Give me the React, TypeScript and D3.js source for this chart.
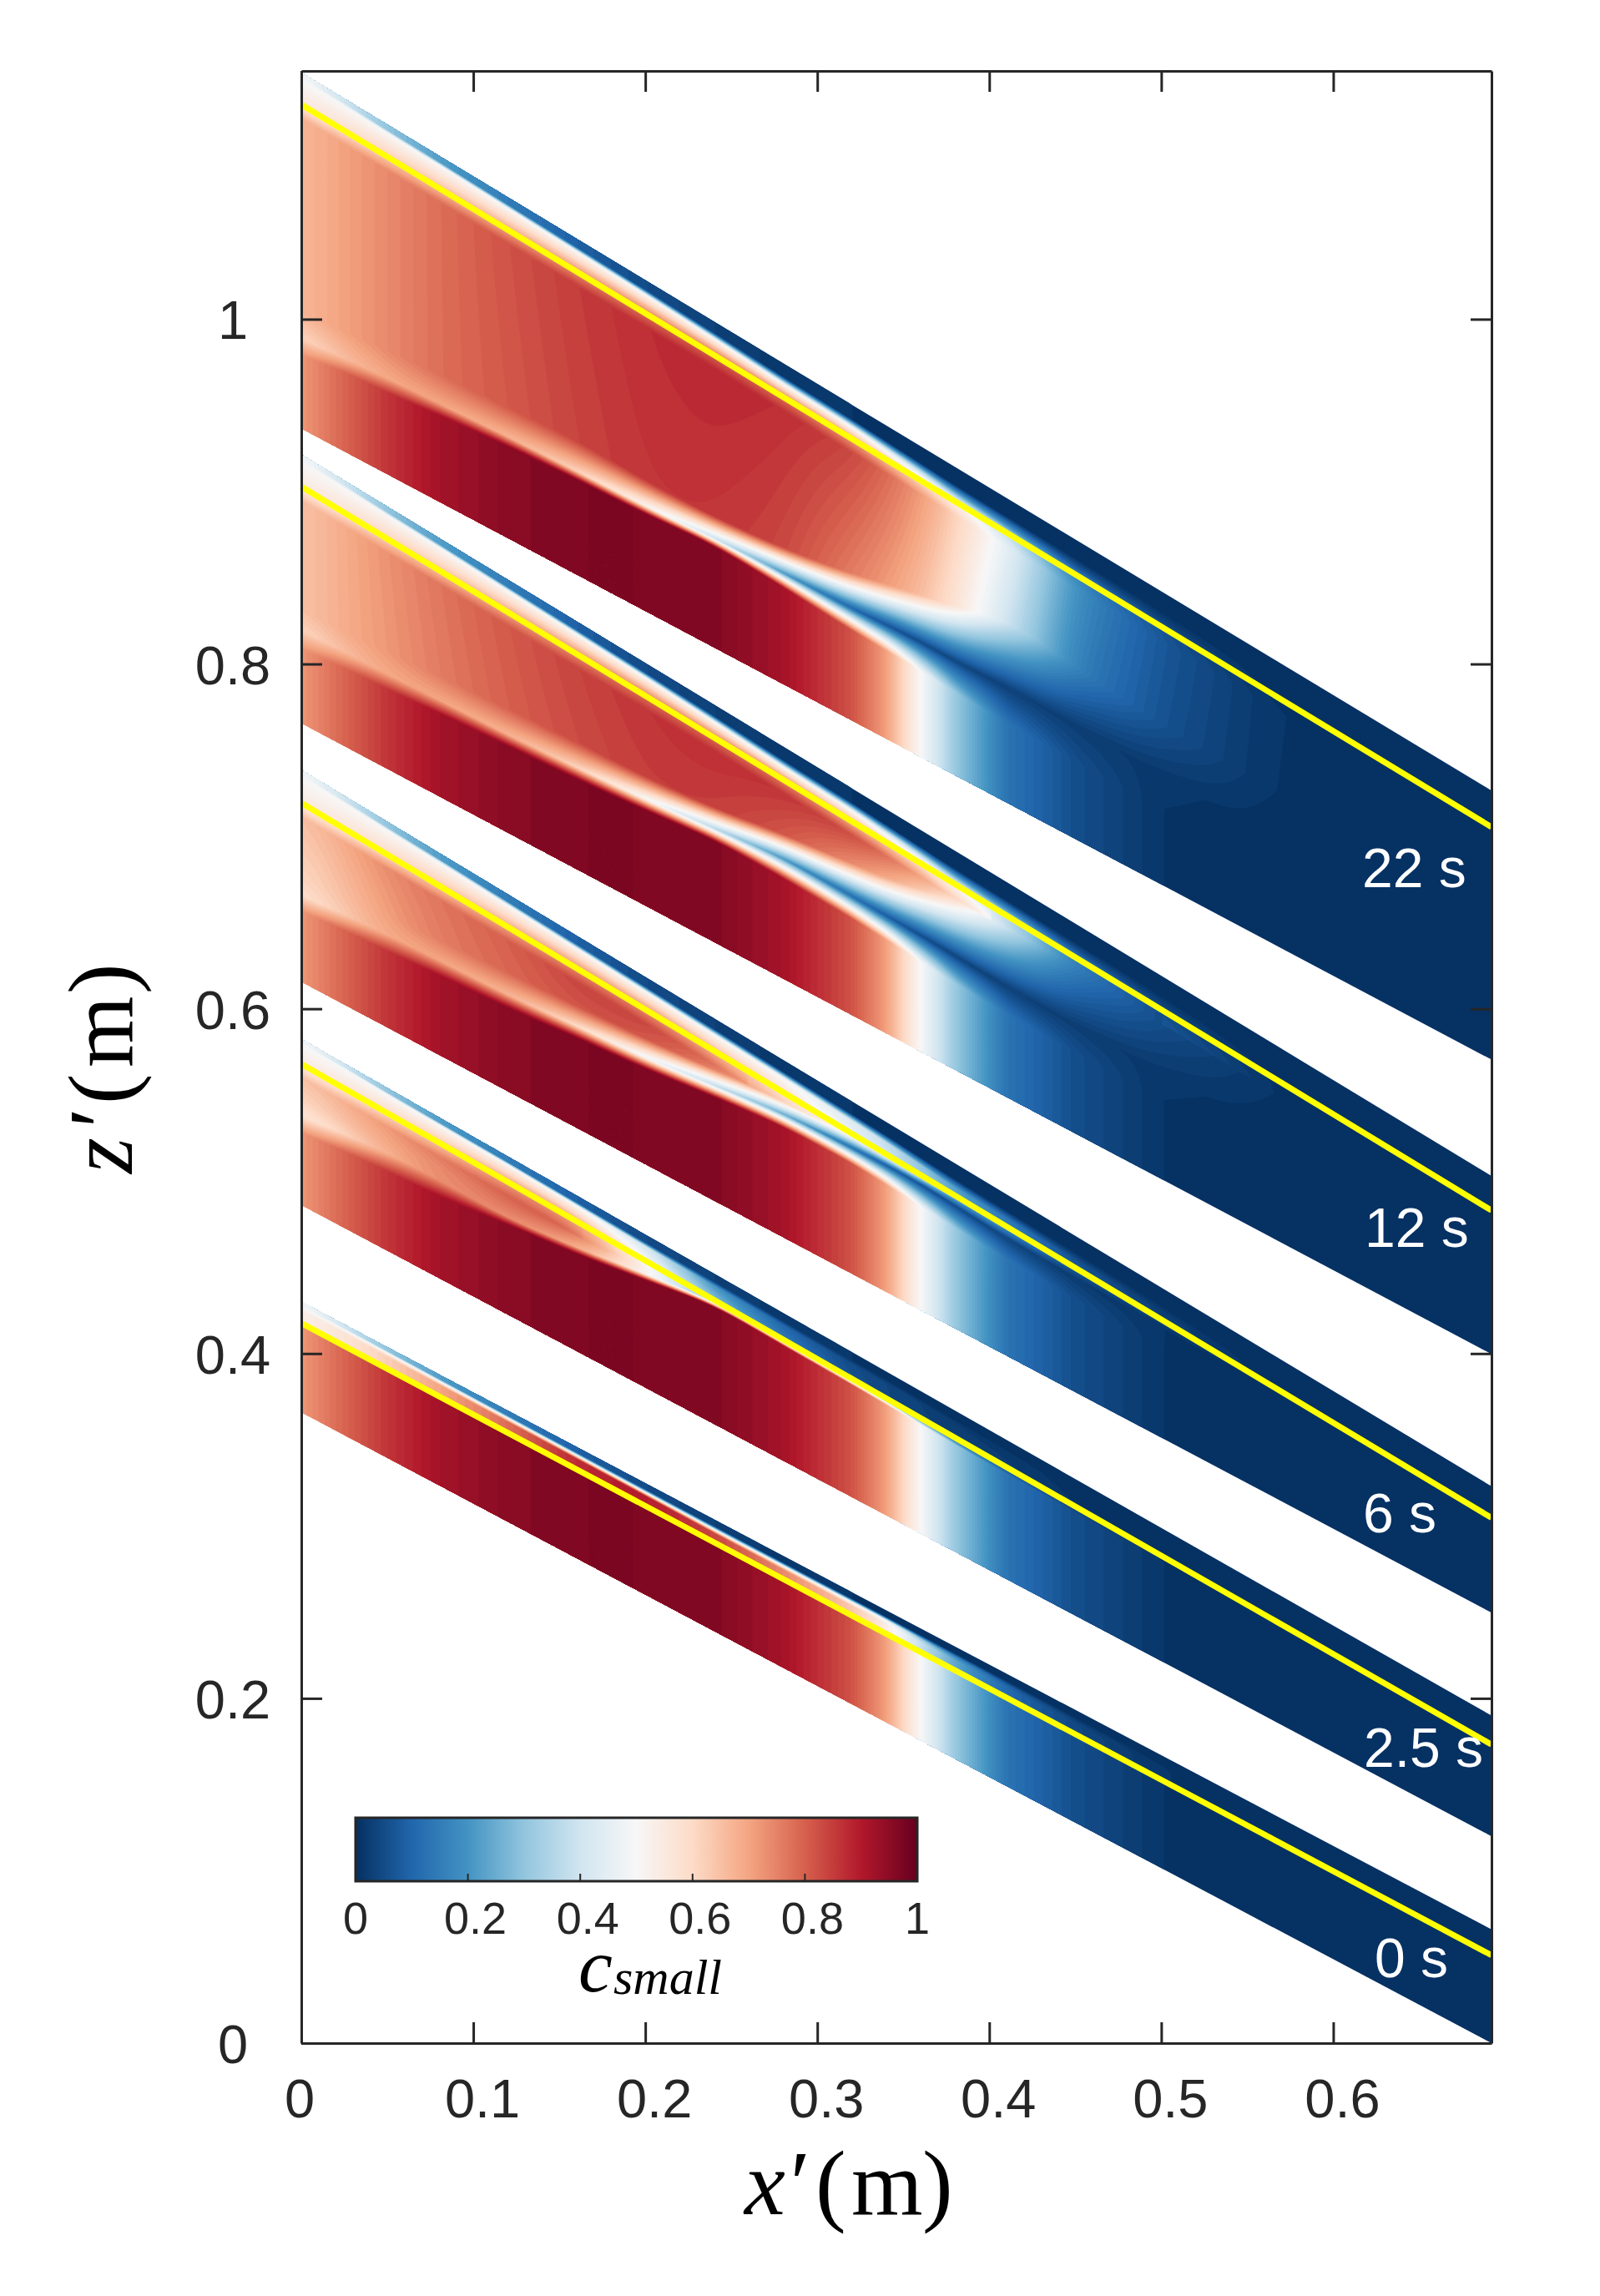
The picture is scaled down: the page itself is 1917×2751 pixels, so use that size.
import React, { useRef, useEffect } from 'react';
import * as d3 from 'd3';

const xTicks = [0, 0.1, 0.2, 0.3, 0.4, 0.5, 0.6];
const zTicks = [0, 0.2, 0.4, 0.6, 0.8, 1];
const barTicks = [0, 0.2, 0.4, 0.6, 0.8, 1];
const colorStops = ['#053061', '#2166ac', '#4393c3', '#92c5de', '#d1e5f0', '#f7f7f7', '#fddbc7', '#f4a582', '#d6604d', '#b2182b', '#67001f'];

const timeLabels = ['22 s', '12 s', '6 s', '2.5 s', '0 s'];
const labelX = [1632, 1635, 1633, 1634, 1647];
const labelY = [1063, 1494, 1836, 2117, 2369];

// band edges, z at x = 0 and at the right end of the axis
const topLeft = [1.143, 0.9215, 0.7385, 0.5824, 0.43];
const topRight = [0.7266, 0.503, 0.323, 0.19, 0.066];
const yellowLeft = [1.1245, 0.9029, 0.7194, 0.568, 0.4176];
const yellowRight = [0.7054, 0.483, 0.3047, 0.1732, 0.051];
const bottomLeft = [0.9366, 0.7657, 0.6157, 0.4862, 0.366];
const bottomRight = [0.5705, 0.3997, 0.2497, 0.12, 0];

const stations = [0, 0.02, 0.05, 0.08, 0.12, 0.16, 0.2, 0.24, 0.28, 0.32, 0.34, 0.36, 0.38, 0.41, 0.45, 0.5, 0.56, 0.62, 0.692];
const bottomC = [0.72, 0.78, 0.86, 0.92, 0.955, 0.97, 0.97, 0.965, 0.92, 0.82, 0.71, 0.5, 0.31, 0.13, 0.055, 0.01, 0, 0, 0];
const surfaceC = [0.5, 0.42, 0.3, 0.22, 0.15, 0.09, 0.05, 0.03, 0.015, 0.01, 0.008, 0.005, 0.003, 0, 0, 0, 0, 0, 0];

// rows per station: lower edge, tongue height, tongue c, upper edge, c above it, c under yellow line, c at yellow line
const field22 = [
  [0.041, 0.052, 0.60, 0.068, 0.66, 0.66, 0.55],
  [0.046, 0.054, 0.65, 0.069, 0.70, 0.70, 0.58],
  [0.047, 0.056, 0.70, 0.072, 0.74, 0.74, 0.63],
  [0.050, 0.057, 0.70, 0.074, 0.78, 0.78, 0.66],
  [0.053, 0.059, 0.68, 0.076, 0.81, 0.82, 0.70],
  [0.055, 0.060, 0.62, 0.078, 0.84, 0.85, 0.74],
  [0.056, 0.061, 0.52, 0.076, 0.86, 0.87, 0.78],
  [0.059, 0.0635, 0.40, 0.076, 0.86, 0.88, 0.80],
  [0.056, 0.0645, 0.20, 0.079, 0.84, 0.87, 0.78],
  [0.052, 0.065, 0.10, 0.085, 0.76, 0.84, 0.72],
  [0.051, 0.066, 0.06, 0.090, 0.72, 0.79, 0.66],
  [0.050, 0.067, 0.05, 0.094, 0.66, 0.72, 0.60],
  [0.048, 0.066, 0.04, 0.098, 0.58, 0.62, 0.54],
  [0.046, 0.067, 0.03, 0.106, 0.40, 0.46, 0.38],
  [0.045, 0.066, 0.025, 0.100, 0.15, 0.18, 0.16],
  [0.044, 0.064, 0.015, 0.093, 0.06, 0.07, 0.06],
  [0.044, 0.060, 0.003, 0.090, 0.01, 0.012, 0.006],
  [0.044, 0.060, 0, 0.090, 0, 0, 0],
  [0.044, 0.060, 0, 0.090, 0, 0, 0],
];
const field12 = [
  [0.042, 0.054, 0.60, 0.066, 0.64, 0.64, 0.54],
  [0.045, 0.055, 0.65, 0.066, 0.68, 0.68, 0.57],
  [0.046, 0.055, 0.70, 0.068, 0.72, 0.73, 0.62],
  [0.048, 0.056, 0.70, 0.070, 0.76, 0.77, 0.65],
  [0.050, 0.057, 0.68, 0.072, 0.80, 0.81, 0.70],
  [0.052, 0.059, 0.62, 0.074, 0.83, 0.84, 0.74],
  [0.055, 0.062, 0.50, 0.075, 0.85, 0.86, 0.78],
  [0.059, 0.066, 0.36, 0.078, 0.85, 0.87, 0.78],
  [0.058, 0.070, 0.20, 0.084, 0.82, 0.86, 0.76],
  [0.056, 0.069, 0.12, 0.088, 0.74, 0.83, 0.68],
  [0.054, 0.068, 0.08, 0.090, 0.70, 0.78, 0.63],
  [0.052, 0.0676, 0.05, 0.094, 0.64, 0.71, 0.58],
  [0.050, 0.066, 0.04, 0.098, 0.58, 0.61, 0.52],
  [0.048, 0.064, 0.03, 0.098, 0.38, 0.46, 0.36],
  [0.047, 0.063, 0.025, 0.097, 0.14, 0.18, 0.15],
  [0.046, 0.062, 0.015, 0.090, 0.05, 0.07, 0.05],
  [0.046, 0.060, 0.003, 0.085, 0.01, 0.012, 0.006],
  [0.046, 0.060, 0, 0.085, 0, 0, 0],
  [0.046, 0.060, 0, 0.085, 0, 0, 0],
];
const field6 = [
  [0.040, 0.050, 0.58, 0.060, 0.60, 0.64, 0.54],
  [0.043, 0.052, 0.62, 0.062, 0.64, 0.68, 0.56],
  [0.044, 0.054, 0.70, 0.065, 0.71, 0.74, 0.60],
  [0.046, 0.055, 0.70, 0.067, 0.76, 0.77, 0.64],
  [0.048, 0.056, 0.68, 0.069, 0.79, 0.80, 0.70],
  [0.052, 0.059, 0.60, 0.071, 0.82, 0.84, 0.74],
  [0.055, 0.062, 0.48, 0.073, 0.82, 0.84, 0.74],
  [0.060, 0.067, 0.38, 0.076, 0.76, 0.78, 0.68],
  [0.064, 0.0718, 0.25, 0.079, 0.62, 0.66, 0.58],
  [0.064, 0.073, 0.12, 0.0795, 0.48, 0.50, 0.46],
  [0.062, 0.0735, 0.08, 0.0775, 0.42, 0.42, 0.40],
  [0.060, 0.0733, 0.06, 0.076, 0.33, 0.33, 0.33],
  [0.058, 0.071, 0.05, 0.076, 0.24, 0.24, 0.24],
  [0.056, 0.068, 0.04, 0.072, 0.15, 0.15, 0.15],
  [0.054, 0.066, 0.02, 0.071, 0.07, 0.07, 0.07],
  [0.052, 0.064, 0.01, 0.067, 0.03, 0.03, 0.03],
  [0.050, 0.060, 0.003, 0.064, 0.005, 0.005, 0.005],
  [0.050, 0.060, 0, 0.062, 0, 0, 0],
  [0.050, 0.060, 0, 0.062, 0, 0, 0],
];
const field25 = [
  [0.041, 0.052, 0.56, 0.060, 0.60, 0.64, 0.54],
  [0.044, 0.054, 0.60, 0.062, 0.64, 0.67, 0.56],
  [0.046, 0.057, 0.68, 0.064, 0.70, 0.72, 0.60],
  [0.047, 0.057, 0.74, 0.064, 0.74, 0.76, 0.64],
  [0.052, 0.056, 0.74, 0.064, 0.78, 0.80, 0.72],
  [0.056, 0.060, 0.70, 0.067, 0.78, 0.80, 0.72],
  [0.062, 0.066, 0.52, 0.069, 0.52, 0.52, 0.50],
  [0.0685, 0.0715, 0.28, 0.0718, 0.28, 0.28, 0.28],
  [0.0665, 0.070, 0.14, 0.0702, 0.14, 0.14, 0.14],
  [0.065, 0.0685, 0.06, 0.0687, 0.06, 0.06, 0.06],
  [0.064, 0.0677, 0.04, 0.0679, 0.04, 0.04, 0.04],
  [0.063, 0.067, 0.03, 0.0672, 0.03, 0.03, 0.03],
  [0.062, 0.066, 0.03, 0.0662, 0.03, 0.03, 0.03],
  [0.061, 0.065, 0.025, 0.0652, 0.025, 0.025, 0.025],
  [0.060, 0.063, 0.01, 0.0632, 0.01, 0.01, 0.01],
  [0.058, 0.061, 0.005, 0.0612, 0.005, 0.005, 0.005],
  [0.056, 0.059, 0, 0.0592, 0, 0, 0],
  [0.054, 0.056, 0, 0.0562, 0, 0, 0],
  [0.051, 0.053, 0, 0.0532, 0, 0, 0],
];
const field0 = [
  [0.0508, 0.0512, 0.52, 0.0514, 0.52, 0.52, 0.52],
  [0.0508, 0.0512, 0.56, 0.0514, 0.56, 0.56, 0.56],
  [0.0508, 0.0512, 0.62, 0.0514, 0.62, 0.62, 0.62],
  [0.0508, 0.0512, 0.70, 0.0514, 0.70, 0.70, 0.70],
  [0.0508, 0.0512, 0.78, 0.0514, 0.78, 0.78, 0.78],
  [0.0508, 0.0512, 0.88, 0.0514, 0.88, 0.88, 0.88],
  [0.0508, 0.0512, 0.90, 0.0514, 0.90, 0.90, 0.90],
  [0.0508, 0.0512, 0.84, 0.0514, 0.84, 0.84, 0.84],
  [0.0508, 0.0512, 0.74, 0.0514, 0.74, 0.74, 0.74],
  [0.0508, 0.0512, 0.64, 0.0514, 0.64, 0.64, 0.64],
  [0.0508, 0.0512, 0.56, 0.0514, 0.56, 0.56, 0.56],
  [0.0508, 0.0512, 0.38, 0.0514, 0.38, 0.38, 0.38],
  [0.0508, 0.0512, 0.22, 0.0514, 0.22, 0.22, 0.22],
  [0.0508, 0.0512, 0.10, 0.0514, 0.10, 0.10, 0.10],
  [0.0508, 0.0512, 0.04, 0.0514, 0.04, 0.04, 0.04],
  [0.0508, 0.0512, 0.01, 0.0514, 0.01, 0.01, 0.01],
  [0.0508, 0.0512, 0, 0.0514, 0, 0, 0],
  [0.0508, 0.0512, 0, 0.0514, 0, 0, 0],
  [0.0508, 0.0512, 0, 0.0514, 0, 0, 0],
];
const bandFields = [field22, field12, field6, field25, field0];

// depth of the pale line under the top edge and its c
const skinDepth22 = [0.004, 0.004, 0.005, 0.0055, 0.0065, 0.0075, 0.0085, 0.01, 0.012, 0.013, 0.014, 0.015, 0.016, 0.016, 0.016, 0.016, 0.016, 0.016, 0.016];
const skinDepth6 = [0.004, 0.004, 0.005, 0.0055, 0.0065, 0.0075, 0.0085, 0.0095, 0.0105, 0.0115, 0.012, 0.013, 0.014, 0.014, 0.014, 0.014, 0.014, 0.014, 0.014];
const skinDepth25 = [0.003, 0.003, 0.004, 0.0045, 0.005, 0.006, 0.007, 0.007, 0.007, 0.007, 0.007, 0.007, 0.007, 0.007, 0.007, 0.007, 0.007, 0.007, 0.007];
const skinDepth0 = [0.003, 0.003, 0.0035, 0.004, 0.0045, 0.005, 0.0055, 0.006, 0.006, 0.006, 0.006, 0.006, 0.006, 0.006, 0.006, 0.006, 0.006, 0.006, 0.006];
const bandSkinDepth = [skinDepth22, skinDepth22, skinDepth6, skinDepth25, skinDepth0];
const skinC22 = [0.5, 0.5, 0.5, 0.5, 0.5, 0.5, 0.5, 0.5, 0.5, 0.5, 0.45, 0.4, 0.3, 0.2, 0.08, 0.03, 0.005, 0, 0];
const skinC6 = [0.5, 0.5, 0.5, 0.5, 0.5, 0.5, 0.5, 0.5, 0.5, 0.44, 0.38, 0.3, 0.22, 0.14, 0.06, 0.025, 0.005, 0, 0];
const skinC25 = [0.5, 0.5, 0.5, 0.5, 0.5, 0.5, 0.42, 0.2, 0.1, 0.05, 0.04, 0.03, 0.02, 0.015, 0.005, 0, 0, 0, 0];
const skinC0 = [0.5, 0.5, 0.5, 0.5, 0.5, 0.5, 0.5, 0.5, 0.5, 0.5, 0.5, 0.3, 0.18, 0.08, 0.03, 0.01, 0, 0, 0];
const bandSkinC = [skinC22, skinC22, skinC6, skinC25, skinC0];

const xMax = 0.692;
const zMax = 1.144;
const frame = { left: 361, right: 1787, top: 85, bottom: 2448 };
const bar = { left: 426, right: 1099, top: 2178, bottom: 2254 };
const ink = '#262626';
const sans = '"Liberation Sans", Arial, sans-serif';
const serif = '"Liberation Serif", "Times New Roman", serif';

const cValues = colorStops.map((_, i) => i / 10);
const colorScale = d3.scaleLinear<string>().domain(cValues).range(colorStops).interpolate(d3.interpolateRgb);
const levels = d3.range(1, 100).map(d => d / 100);

// a column read at the stations, sampled at the raster columns and rounded at the stations
function sampled(column: number[], nx: number, radius: number): number[] {
  const s = d3.scaleLinear().domain(stations).range(column);
  const out = d3.range(nx).map(i => s(((i + 0.5) / nx) * xMax));
  return radius > 0 ? (d3.blur(out, radius) as number[]) : out;
}

// c over a (x', fraction of band height) raster, knots follow the read rows
function bandRaster(band: number, nx: number, ny: number): number[] {
  const rows = bandFields[band];
  const columns = d3.range(7).map(k => sampled(rows.map(r => r[k]), nx, 10));
  const bottom = sampled(bottomC, nx, 2);
  const surface = sampled(surfaceC, nx, 4);
  const skinD = sampled(bandSkinDepth[band], nx, 4);
  const skinC = sampled(bandSkinC[band], nx, 4);
  const values: number[] = new Array(nx * ny);

  for (let i = 0; i < nx; i++) {
    const t = (i + 0.5) / nx;
    const zb = bottomLeft[band] + (bottomRight[band] - bottomLeft[band]) * t;
    const height = topLeft[band] + (topRight[band] - topLeft[band]) * t - zb;
    const yellowW = yellowLeft[band] + (yellowRight[band] - yellowLeft[band]) * t - zb;
    const c = columns.map(s => s[i]);
    const d = skinD[i];
    const raw: [number, number][] = [
      [0, bottom[i]],
      [c[0], bottom[i]],
      [c[1], c[2]],
      [c[3], c[4]],
      [yellowW - 0.008, c[5]],
      [yellowW, c[6]],
    ];
    // the thin red layer at 0 s stays full until just under the pale line
    if (band === 4) raw.push([height - d - 0.002, c[6]]);
    raw.push([height - d, skinC[i]], [height - d * 0.65, surface[i]], [height, surface[i]]);
    const knots: [number, number][] = [];
    raw.forEach(p => {
      if (knots.length === 0 || p[0] > knots[knots.length - 1][0]) knots.push(p);
    });
    const profile = d3.scaleLinear().domain(knots.map(p => p[0])).range(knots.map(p => p[1])).clamp(true);
    for (let j = 0; j < ny; j++) {
      values[j * nx + i] = profile(((j + 0.5) / ny) * height);
    }
  }
  return values;
}

export default function App() {
  const svgRef = useRef<SVGSVGElement | null>(null);

  useEffect(() => {
    if (!svgRef.current) return;
    const svg = d3.select(svgRef.current);
    svg.selectAll('*').remove();

    const xScale = d3.scaleLinear().domain([0, xMax]).range([frame.left, frame.right]);
    const zScale = d3.scaleLinear().domain([0, zMax]).range([frame.bottom, frame.top]);

    // filled contours, one band at a time
    const nx = 640;
    const ny = 340;
    const contours = d3.contours().size([nx, ny]).thresholds(levels);
    timeLabels.forEach((_, band) => {
      const values = bandRaster(band, nx, ny);
      const project = d3.geoTransform({
        point(gx: number, gy: number) {
          const t = gx / nx;
          const f = gy / ny;
          const zb = bottomLeft[band] + (bottomRight[band] - bottomLeft[band]) * t;
          const zt = topLeft[band] + (topRight[band] - topLeft[band]) * t;
          (this as any).stream.point(xScale(t * xMax), zScale(zb + (zt - zb) * f));
        },
      });
      const path = d3.geoPath(project);
      const g = svg.append('g').attr('class', 'band');
      const outline = d3.line<number>()
        .x(d => xScale(d))
        .y((d, i) => zScale(i < 2 ? (i === 0 ? bottomLeft[band] : bottomRight[band]) : (i === 2 ? topRight[band] : topLeft[band])));
      g.append('path')
        .attr('d', outline([0, xMax, xMax, 0]) + 'Z')
        .attr('fill', colorScale(0.002));
      g.selectAll('path.level')
        .data(contours(values).filter(c => c.coordinates.length > 0))
        .join('path')
        .attr('class', 'level')
        .attr('d', c => path(c as any))
        .attr('fill', c => colorScale(c.value + 0.005));
    });

    // yellow lines
    timeLabels.forEach((_, band) => {
      const yellow = d3.line<number>()
        .x(d => xScale(d))
        .y((d, i) => zScale(i === 0 ? yellowLeft[band] : yellowRight[band]));
      svg.append('path')
        .attr('d', yellow([0, xMax]))
        .attr('fill', 'none')
        .attr('stroke', '#ffff00')
        .attr('stroke-width', 7);
    });

    // time labels
    svg.selectAll('text.time')
      .data(timeLabels)
      .join('text')
      .attr('class', 'time')
      .attr('x', (d, i) => labelX[i])
      .attr('y', (d, i) => labelY[i])
      .attr('fill', '#ffffff')
      .style('font-family', sans)
      .style('font-size', '66px')
      .text(d => d);

    // axes, ticks point inward on all four sides
    const styleAxis = (g: any) => {
      g.selectAll('path, line').attr('stroke', ink).attr('stroke-width', 3);
      g.selectAll('text').remove();
    };
    svg.append('g').attr('transform', `translate(0,${frame.bottom})`)
      .call(d3.axisBottom(xScale).tickValues(xTicks).tickSizeInner(-25).tickSizeOuter(0)).call(styleAxis);
    svg.append('g').attr('transform', `translate(0,${frame.top})`)
      .call(d3.axisTop(xScale).tickValues(xTicks).tickSizeInner(-25).tickSizeOuter(0)).call(styleAxis);
    svg.append('g').attr('transform', `translate(${frame.left},0)`)
      .call(d3.axisLeft(zScale).tickValues(zTicks).tickSizeInner(-25).tickSizeOuter(0)).call(styleAxis);
    svg.append('g').attr('transform', `translate(${frame.right},0)`)
      .call(d3.axisRight(zScale).tickValues(zTicks).tickSizeInner(-25).tickSizeOuter(0)).call(styleAxis);

    svg.selectAll('text.xtick')
      .data(xTicks)
      .join('text')
      .attr('class', 'xtick')
      .attr('x', d => xScale(d) + (d === 0 ? -2 : 11))
      .attr('y', 2537)
      .attr('text-anchor', 'middle')
      .attr('fill', ink)
      .style('font-family', sans)
      .style('font-size', '65px')
      .text(d => String(d));
    svg.selectAll('text.ztick')
      .data(zTicks)
      .join('text')
      .attr('class', 'ztick')
      .attr('x', 279)
      .attr('y', d => zScale(d) + 24)
      .attr('text-anchor', 'middle')
      .attr('fill', ink)
      .style('font-family', sans)
      .style('font-size', '65px')
      .text(d => String(d));

    // colorbar
    const barScale = d3.scaleLinear().domain([0, 1]).range([bar.left, bar.right]);
    const defs = svg.append('defs');
    const gradient = defs.append('linearGradient').attr('id', 'barGradient');
    gradient.selectAll('stop')
      .data(cValues)
      .join('stop')
      .attr('offset', d => `${d * 100}%`)
      .attr('stop-color', d => colorScale(d));
    svg.append('rect')
      .attr('x', bar.left).attr('y', bar.top)
      .attr('width', bar.right - bar.left).attr('height', bar.bottom - bar.top)
      .attr('fill', 'url(#barGradient)')
      .attr('stroke', ink).attr('stroke-width', 3);
    svg.selectAll('line.bartick')
      .data(barTicks.slice(1, -1))
      .join('line')
      .attr('class', 'bartick')
      .attr('x1', d => barScale(d)).attr('x2', d => barScale(d))
      .attr('y1', bar.bottom).attr('y2', bar.bottom - 9)
      .attr('stroke', ink).attr('stroke-width', 2);
    svg.selectAll('text.bartext')
      .data(barTicks)
      .join('text')
      .attr('class', 'bartext')
      .attr('x', d => barScale(d) + (d === 0 || d === 1 ? 0 : 9))
      .attr('y', 2317)
      .attr('text-anchor', 'middle')
      .attr('fill', ink)
      .style('font-family', sans)
      .style('font-size', '54px')
      .text(d => String(d));

    // math labels
    const cLabel = svg.append('text')
      .attr('y', 2386).attr('fill', '#000000')
      .style('font-family', serif).style('font-style', 'italic');
    cLabel.append('tspan').attr('x', 693).style('font-size', '92px').text('c');
    cLabel.append('tspan').attr('x', 735).attr('y', 2389).style('font-size', '60px').text('small');

    const xLabel = svg.append('text')
      .attr('y', 2653).attr('fill', '#000000')
      .style('font-family', serif).style('font-size', '110px');
    xLabel.append('tspan').attr('x', 892).style('font-style', 'italic').text('x');
    xLabel.append('tspan').attr('x', 940).style('font-style', 'italic').text('′');
    xLabel.append('tspan').attr('x', 977).text('(');
    xLabel.append('tspan').attr('x', 1020).text('m');
    xLabel.append('tspan').attr('x', 1105).text(')');

    const zLabel = svg.append('text')
      .attr('transform', 'translate(158,1406) rotate(-90)')
      .attr('fill', '#000000')
      .style('font-family', serif).style('font-size', '110px');
    zLabel.append('tspan').attr('x', 0).style('font-style', 'italic').text('z');
    zLabel.append('tspan').attr('x', 48).style('font-style', 'italic').text('′');
    zLabel.append('tspan').attr('x', 83).text('(');
    zLabel.append('tspan').attr('x', 127).text('m');
    zLabel.append('tspan').attr('x', 215).text(')');
  }, []);

  return (
    <svg
      ref={svgRef}
      width={1917}
      height={2751}
      style={{ position: 'absolute', left: 0, top: 0, background: '#ffffff' }}
    />
  );
}
